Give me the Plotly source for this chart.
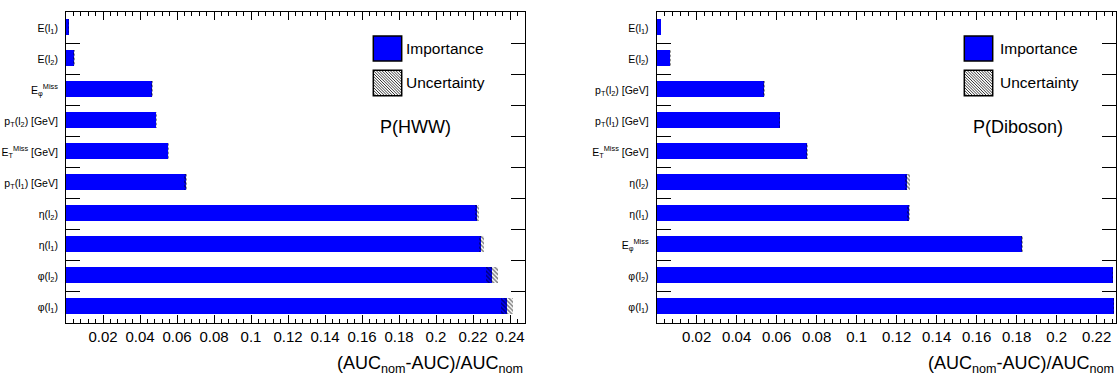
import plotly.graph_objects as go

W, H = 1117, 379

# Variable labels (top to bottom) with importance and uncertainty values
hww_labels = ["E(l<sub>1</sub>)", "E(l<sub>2</sub>)", "E<sub>φ</sub><sup>Miss</sup>",
              "p<sub>T</sub>(l<sub>2</sub>) [GeV]", "E<sub>T</sub><sup>Miss</sup> [GeV]",
              "p<sub>T</sub>(l<sub>1</sub>) [GeV]", "η(l<sub>2</sub>)", "η(l<sub>1</sub>)",
              "φ(l<sub>2</sub>)", "φ(l<sub>1</sub>)"]
hww_importance = [0.0015, 0.0043, 0.0466, 0.0488, 0.0553, 0.0647, 0.2223, 0.2245, 0.2303, 0.2384]
hww_uncertainty = [0.0002, 0.0003, 0.0006, 0.0003, 0.0004, 0.0007, 0.0010, 0.0015, 0.0032, 0.0033]

dib_labels = ["E(l<sub>1</sub>)", "E(l<sub>2</sub>)", "p<sub>T</sub>(l<sub>2</sub>) [GeV]",
              "p<sub>T</sub>(l<sub>1</sub>) [GeV]", "E<sub>T</sub><sup>Miss</sup> [GeV]",
              "η(l<sub>2</sub>)", "η(l<sub>1</sub>)", "E<sub>φ</sub><sup>Miss</sup>",
              "φ(l<sub>2</sub>)", "φ(l<sub>1</sub>)"]
dib_importance = [0.0020, 0.0067, 0.0535, 0.0613, 0.0750, 0.1252, 0.1258, 0.1823, 0.2278, 0.2283]
dib_uncertainty = [0.0002, 0.0004, 0.0003, 0.0004, 0.0006, 0.0013, 0.0007, 0.0005, 0.0003, 0.0003]

x_ticks_hww = [0.02, 0.04, 0.06, 0.08, 0.1, 0.12, 0.14, 0.16, 0.18, 0.2, 0.22, 0.24]
x_ticks_dib = [0.02, 0.04, 0.06, 0.08, 0.1, 0.12, 0.14, 0.16, 0.18, 0.2, 0.22]

panels = [
    dict(labels=hww_labels, imp=hww_importance, unc=hww_uncertainty, ticks=x_ticks_hww,
         xr=[0, 0.2481], px=(66.0, 525.0), name="P(HWW)", leg_x=373.3, txt_x=404.0, name_x=378.0),
    dict(labels=dib_labels, imp=dib_importance, unc=dib_uncertainty, ticks=x_ticks_dib,
         xr=[0, 0.2295], px=(656.7, 1115.7), name="P(Diboson)", leg_x=964.3, txt_x=998.0, name_x=971.0),
]

FONT = "Liberation Sans, Arial, Helvetica, sans-serif"
BAR_W, BAR_OFF = 0.52, -0.285
y_top, y_bot = 12.3, 322.7


def px(x):
    return x / W


def py(y):
    return 1 - y / H


fig = go.Figure()
shapes, annotations = [], []

for k, p in enumerate(panels):
    sfx = "" if k == 0 else "2"
    xa, ya = "x" + sfx, "y" + sfx
    fig.add_trace(go.Bar(
        y=p["labels"], x=p["imp"], orientation="h", xaxis=xa, yaxis=ya,
        width=BAR_W, offset=BAR_OFF, marker=dict(color="#0000FF", line=dict(width=0)),
        showlegend=False, hoverinfo="skip"))
    fig.add_trace(go.Bar(
        y=p["labels"], x=[2 * u for u in p["unc"]],
        base=[v - u for v, u in zip(p["imp"], p["unc"])],
        orientation="h", xaxis=xa, yaxis=ya, width=BAR_W, offset=BAR_OFF,
        marker=dict(color="rgba(0,0,0,0)", line=dict(width=0),
                    pattern=dict(shape="\\", size=3, solidity=0.5,
                                 fgcolor="black", bgcolor="rgba(0,0,0,0)")),
        showlegend=False, hoverinfo="skip"))

    x0, x1 = p["px"]
    axis_common = dict(showline=True, linecolor="black", linewidth=1, mirror="ticks",
                       showgrid=False, zeroline=False, tickcolor="black")
    fig.layout["xaxis" + sfx] = dict(
        domain=[px(x0), px(x1)], range=p["xr"], anchor=ya,
        ticks="inside", ticklen=8, tickvals=p["ticks"],
        ticktext=[("%g" % t) for t in p["ticks"]],
        minor=dict(ticks="inside", ticklen=4, tick0=0, dtick=0.004, tickcolor="black"),
        tickfont=dict(family=FONT, size=15, color="black"), **axis_common)
    fig.layout["yaxis" + sfx] = dict(
        domain=[py(y_bot), py(y_top)], anchor=xa, type="category",
        autorange="reversed", tickson="boundaries", ticks="inside", ticklen=14,
        ticklabelstandoff=5,
        tickfont=dict(family=FONT, size=10.5, color="black"), **axis_common)

    # legend keys
    lx0, lx1 = p["leg_x"], p["leg_x"] + 28.4
    shapes.append(dict(type="rect", xref="paper", yref="paper",
                       x0=px(lx0), x1=px(lx1), y0=py(61), y1=py(36),
                       fillcolor="#0000FF", line=dict(color="black", width=1.5)))
    hy0, hy1 = 70.3, 95.7
    segs = []
    c = lx0 - hy1
    while c <= lx1 - hy0:
        ax_ = max(lx0, c + hy0)
        bx_ = min(lx1, c + hy1)
        segs.append("M %.5f %.5f L %.5f %.5f" % (px(ax_), py(ax_ - c), px(bx_), py(bx_ - c)))
        c += 2.8
    shapes.append(dict(type="rect", xref="paper", yref="paper",
                       x0=px(lx0), x1=px(lx1), y0=py(hy1), y1=py(hy0),
                       fillcolor="white", line=dict(width=0)))
    shapes.append(dict(type="path", xref="paper", yref="paper", path=" ".join(segs),
                       line=dict(color="black", width=0.8)))
    shapes.append(dict(type="rect", xref="paper", yref="paper",
                       x0=px(lx0), x1=px(lx1), y0=py(hy1), y1=py(hy0),
                       fillcolor="rgba(0,0,0,0)", line=dict(color="black", width=1.5)))
    for txt, yc in (("Importance", 48.5), ("Uncertainty", 83.0)):
        annotations.append(dict(text=txt, x=px(p["txt_x"]), y=py(yc), xref="paper", yref="paper",
                                xanchor="left", yanchor="middle", showarrow=False,
                                font=dict(family=FONT, size=15.5, color="black")))
    annotations.append(dict(text=p["name"], x=px(p["name_x"]), y=py(127), xref="paper", yref="paper",
                            xanchor="left", yanchor="middle", showarrow=False,
                            font=dict(family=FONT, size=18, color="black")))
    annotations.append(dict(text="(AUC<sub>nom</sub>-AUC)/AUC<sub>nom</sub>",
                            x=px(x1), y=py(364), xref="paper", yref="paper",
                            xanchor="right", yanchor="middle", showarrow=False,
                            font=dict(family=FONT, size=18, color="black")))

fig.update_layout(
    width=W, height=H, margin=dict(l=0, r=0, t=0, b=0),
    paper_bgcolor="white", plot_bgcolor="white",
    barmode="overlay", bargap=0, shapes=shapes, annotations=annotations,
)

fig.write_html("out.html")
